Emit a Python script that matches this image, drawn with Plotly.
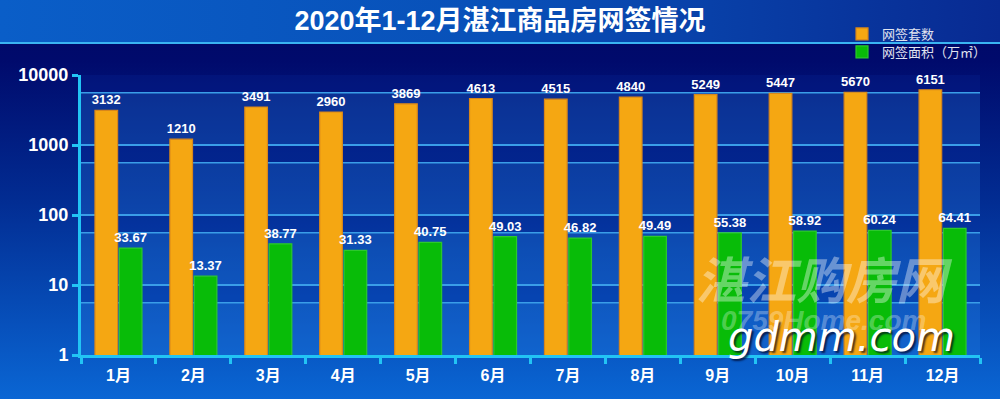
import base64
import plotly.graph_objects as go

# ---------------- data ----------------
months = ["1月", "2月", "3月", "4月", "5月", "6月", "7月", "8月", "9月", "10月", "11月", "12月"]
units_signed = [3132, 1210, 3491, 2960, 3869, 4613, 4515, 4840, 5249, 5447, 5670, 6151]
area_signed = [33.67, 13.37, 38.77, 31.33, 40.75, 49.03, 46.82, 49.49, 55.38, 58.92, 60.24, 64.41]
y_tick_vals = [1, 10, 100, 1000, 10000]
y_tick_text = ["1", "10", "100", "1000", "10000"]
series_names = ["网签套数", "网签面积（万㎡）"]
title_text = "2020年1-12月湛江商品房网签情况"
watermark_cn = "湛江购房网"
watermark_en = "0759Home.com"
watermark_site = "gdmm.com"

# ---------------- geometry / style ----------------
W, H = 1000, 399
ML, MR, MT, MB = 81, 20, 75, 44
PW, PH = W - ML - MR, H - MT - MB
FONT = "Liberation Sans, Arial, Noto Sans CJK SC, sans-serif"
CYAN = "#22C4F4"
GRID = "#3A9EE8"
BAND_OFFSET = 0.2536  # decades between each decade line and the line below it

svg = f"""<svg xmlns="http://www.w3.org/2000/svg" width="{W}" height="{H}" viewBox="0 0 {W} {H}" preserveAspectRatio="none">
<defs>
<linearGradient id="bg" x1="0" y1="0" x2="0" y2="1">
<stop offset="0" stop-color="#000864"/>
<stop offset="0.15" stop-color="#000A6C"/>
<stop offset="0.5" stop-color="#022C92"/>
<stop offset="1" stop-color="#0A66D4"/>
</linearGradient>
<linearGradient id="tb" x1="0" y1="0" x2="1" y2="0">
<stop offset="0" stop-color="#0A5EC8"/>
<stop offset="0.5" stop-color="#0850B8"/>
<stop offset="1" stop-color="#082A92"/>
</linearGradient>
</defs>
<rect width="{W}" height="{H}" fill="url(#bg)"/>
<rect width="{W}" height="42" fill="url(#tb)"/>
<rect y="42" width="{W}" height="2" fill="#3AB4F2"/>
</svg>"""
svg_uri = "data:image/svg+xml;base64," + base64.b64encode(svg.encode("utf-8")).decode("ascii")

fig = go.Figure()

fig.add_trace(go.Bar(
    x=months, y=units_signed, name=series_names[0], legend="legend", showlegend=True,
    marker=dict(color="#F5A712", line=dict(color="#D8861A", width=1.2)),
    text=[str(v) for v in units_signed], textposition="outside",
    textfont=dict(family=FONT, size=13, color="white", weight="bold"),
    constraintext="none", cliponaxis=False,
))
fig.add_trace(go.Bar(
    x=months, y=area_signed, name=series_names[1], legend="legend2", showlegend=True,
    marker=dict(color="#08BC08", line=dict(color="#2CC82C", width=1.2)),
    text=[f"{v:.2f}" for v in area_signed], textposition="outside",
    textfont=dict(family=FONT, size=13, color="white", weight="bold"),
    constraintext="none", cliponaxis=False,
))

# plot-area bands and secondary grid lines (paper coords, log range 0..4)
shapes = []
n_dec = len(y_tick_vals) - 1
for n in range(1, n_dec + 1):
    top = n / n_dec
    mid = (n - BAND_OFFSET) / n_dec
    bot = (n - 1) / n_dec
    shapes.append(dict(type="rect", xref="paper", yref="paper", x0=0, x1=1, y0=mid, y1=top,
                       fillcolor="rgba(10,50,170,0.18)", line=dict(width=0), layer="below"))
    shapes.append(dict(type="rect", xref="paper", yref="paper", x0=0, x1=1, y0=bot, y1=mid,
                       fillcolor="rgba(40,130,230,0.27)", line=dict(width=0), layer="below"))
    shapes.append(dict(type="line", xref="paper", yref="paper", x0=0, x1=1, y0=mid, y1=mid,
                       line=dict(color=GRID, width=1.5), layer="below"))

annotations = [
    dict(text=watermark_cn, xref="paper", yref="paper", x=(824 - ML) / PW, y=1 - (282 - MT) / PH,
         xanchor="center", yanchor="middle", showarrow=False,
         font=dict(family=FONT, size=50, color="rgba(255,255,255,0.38)",
                   weight="bold", style="italic")),
    dict(text=watermark_en, xref="paper", yref="paper", x=(823 - ML) / PW, y=1 - (320 - MT) / PH,
         xanchor="center", yanchor="middle", showarrow=False,
         font=dict(family=FONT, size=28, color="rgba(255,255,255,0.3)",
                   weight="bold", style="italic")),
    dict(text=watermark_site, xref="paper", yref="paper", x=(841 - ML) / PW, y=1 - (337 - MT) / PH,
         xanchor="center", yanchor="middle", showarrow=False,
         font=dict(family="DejaVu Sans, Liberation Sans, sans-serif", size=40,
                   color="white", style="italic",
                   shadow="2px 2px 2px rgba(0,0,30,0.7)")),
]

legend_common = dict(xref="container", yref="container", x=0.842,
                     xanchor="left", yanchor="middle", bgcolor="rgba(0,0,0,0)",
                     font=dict(family=FONT, size=13, color="#E0E4F0"), itemwidth=30,
                     visible=True)

fig.update_layout(
    width=W, height=H, showlegend=True,
    margin=dict(l=ML, r=MR, t=MT, b=MB, pad=0, autoexpand=False),
    paper_bgcolor="#000A6C", plot_bgcolor="rgba(0,0,0,0)",
    barmode="group", bargap=0.35, bargroupgap=0.07,
    font=dict(family=FONT, color="white"),
    title=dict(text=title_text, x=0.5, xanchor="center", xref="container",
               y=1 - 21 / H, yanchor="middle", yref="container",
               font=dict(family=FONT, size=27, color="white", weight="bold")),
    legend=dict(legend_common, y=1 - 34 / H),
    legend2=dict(legend_common, y=1 - 52 / H),
    images=[dict(source=svg_uri, xref="paper", yref="paper",
                 x=-ML / PW, y=1 + MT / PH, sizex=W / PW, sizey=H / PH,
                 xanchor="left", yanchor="top", sizing="stretch", layer="below")],
    shapes=shapes,
    annotations=annotations,
    xaxis=dict(type="category", showline=True, linecolor=CYAN, linewidth=3,
               ticks="outside", tickson="boundaries", ticklen=6, tickwidth=2.5, tickcolor=CYAN,
               showgrid=False, tickfont=dict(family=FONT, size=16, color="white", weight="bold"),
               ticklabelstandoff=4),
    yaxis=dict(type="log", range=[0, 4], showline=True, linecolor=CYAN, linewidth=3,
               ticks="outside", ticklen=6, tickwidth=2.5, tickcolor=CYAN,
               tickmode="array", tickvals=y_tick_vals, ticktext=y_tick_text,
               showgrid=True, gridcolor=GRID, gridwidth=1.5, zeroline=False,
               tickfont=dict(family=FONT, size=18, color="white", weight="bold")),
)

fig.write_html("out.html", config={"displayModeBar": False},
               post_script="document.body.style.margin='0';document.body.style.padding='0';")
